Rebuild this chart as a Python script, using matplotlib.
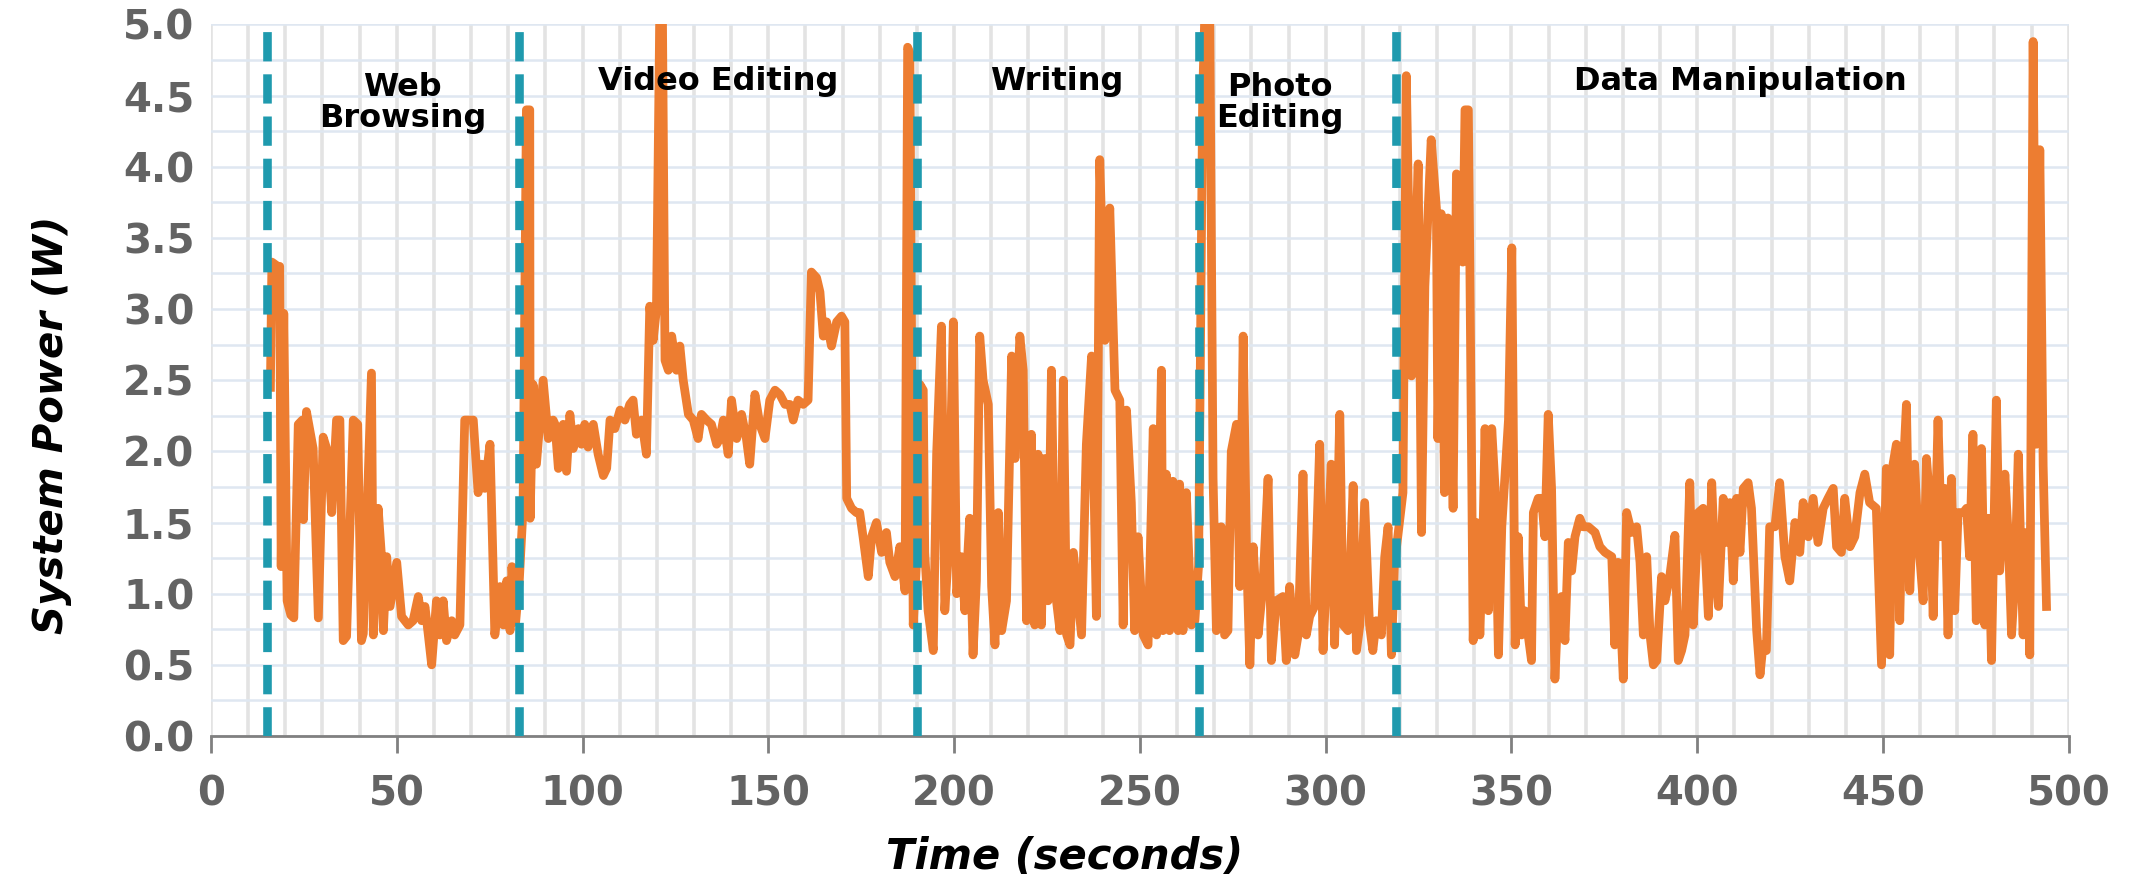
import numpy as np
import matplotlib
matplotlib.use("Agg")
import matplotlib.pyplot as plt

# power trace, split by activity (seconds, watts)
web_t = [16.0, 16.4, 18.0, 18.5, 18.9, 19.6, 20.5, 21.5, 22.3, 23.0, 23.5, 24.6, 24.9, 25.7,
         27.5, 28.9, 30.2, 31.6, 32.5, 33.8, 34.7, 35.6, 36.5, 38.3, 39.5, 40.5, 41.0, 43.2,
         43.7, 45.0, 45.9, 46.4, 47.3, 48.2, 50.0, 51.3, 53.1, 54.4, 55.8, 56.7, 57.6, 58.5,
         59.4, 60.7, 61.6, 62.5, 63.4, 64.8, 65.6, 67.0, 68.3, 70.6, 71.9, 72.8, 73.7, 75.1,
         76.4, 77.8, 78.7, 79.6, 80.5, 81.0, 82.0]
web_p = [2.45, 3.33, 3.30, 3.30, 1.19, 2.97, 0.95, 0.85, 0.83, 1.60, 2.19, 2.22, 1.52, 2.28,
         2.02, 0.83, 2.10, 1.98, 1.57, 2.22, 2.22, 0.67, 0.70, 2.22, 2.19, 0.67, 0.72, 2.55,
         0.71, 1.60, 1.26, 0.74, 1.26, 0.91, 1.22, 0.84, 0.78, 0.81, 0.98, 0.81, 0.91, 0.71,
         0.50, 0.95, 0.71, 0.95, 0.67, 0.81, 0.71, 0.78, 2.22, 2.22, 1.71, 1.91, 1.74, 2.05,
         0.71, 1.05, 0.78, 1.09, 0.74, 1.19, 0.80]

video_t = [83.0, 84.0, 84.9, 85.8, 85.9, 86.7, 87.6, 89.4, 90.8, 92.1, 92.6, 93.5, 94.8, 95.7,
           96.6, 97.5, 98.9, 99.7, 100.6, 101.5, 102.9, 104.2, 105.6, 106.5, 107.4, 108.7,
           110.1, 111.4, 112.7, 113.6, 114.5, 115.9, 117.2, 118.1, 119.0, 119.9, 120.8, 121.5,
           122.2, 123.1, 124.0, 125.3, 126.2, 127.1, 128.5, 129.8, 131.1, 132.0, 133.4, 134.7,
           136.1, 137.0, 137.9, 139.2, 140.1, 141.5, 142.8, 144.1, 145.0, 146.4, 147.7, 149.1,
           150.4, 151.8, 153.1, 154.5, 155.8, 156.7, 158.0, 159.4, 160.7, 161.6, 163.0, 163.9,
           164.8, 165.7, 167.0, 168.4, 169.7, 170.6, 171.1, 172.4, 173.7, 174.6, 175.5, 176.9,
           177.8, 179.1, 180.5, 181.8, 182.7, 184.1, 185.4, 186.8, 187.5, 188.1, 189.0]
video_p = [1.10, 1.60, 4.40, 4.40, 1.53, 2.47, 1.91, 2.50, 2.09, 2.22, 2.19, 1.88, 2.19, 1.86,
           2.26, 2.02, 2.16, 2.05, 2.19, 2.03, 2.19, 1.98, 1.83, 1.88, 2.22, 2.16,
           2.29, 2.22, 2.33, 2.36, 2.12, 2.22, 1.98, 3.02, 2.78, 3.00, 5.10, 5.10,
           2.64, 2.57, 2.81, 2.57, 2.74, 2.50, 2.26, 2.22, 2.09, 2.26, 2.22, 2.19,
           2.05, 2.09, 2.22, 1.98, 2.36, 2.09, 2.26, 2.09, 1.91, 2.40, 2.19, 2.09,
           2.36, 2.43, 2.40, 2.33, 2.33, 2.22, 2.36, 2.33, 2.36, 3.26, 3.22, 3.12,
           2.81, 2.91, 2.74, 2.91, 2.95, 2.91, 1.67, 1.60, 1.57, 1.57, 1.40, 1.12,
           1.40, 1.50, 1.29, 1.43, 1.22, 1.12, 1.33, 1.02, 4.84, 4.80, 0.78]

writing_t = [189.9, 190.8, 191.7, 192.1, 193.0, 194.4, 195.3, 196.6, 197.5, 198.4, 199.8, 200.7,
             202.0, 202.9, 204.2, 205.1, 206.0, 206.9, 207.8, 209.2, 210.1, 211.0, 211.9, 212.8,
             214.1, 215.5, 216.4, 217.7, 218.6, 219.5, 220.8, 221.7, 222.6, 223.5, 224.4, 225.3,
             226.2, 227.1, 228.5, 229.4, 230.3, 231.2, 232.1, 233.0, 234.3, 235.6, 237.0, 238.3,
             239.2, 240.6, 241.9, 243.3, 244.6, 245.5, 246.4, 247.7, 248.6, 249.5, 250.9, 252.2,
             253.6, 254.5, 255.8, 256.2, 257.1, 258.0, 258.9, 260.3, 260.7, 261.6, 262.5, 263.9,
             264.8, 265.8]
writing_p = [1.22, 2.47, 2.43, 1.29, 0.88, 0.60, 1.98, 2.88, 0.88, 1.26, 2.91, 1.00,
             1.26, 0.88, 1.53, 0.57, 1.09, 2.81, 2.50, 2.33, 1.05, 0.64, 1.57, 0.74,
             0.95, 2.67, 1.95, 2.81, 2.57, 0.81, 2.12, 0.78, 1.98, 0.78, 1.95, 0.95,
             2.57, 1.05, 0.74, 2.50, 0.71, 0.64, 1.29, 1.05, 0.71, 2.05, 2.67, 0.84,
             4.05, 2.78, 3.71, 2.43, 2.36, 0.78, 2.29, 1.64, 0.74, 1.40, 0.71, 0.64,
             2.16, 0.71, 2.57, 0.74, 1.84, 0.74, 1.79, 0.74, 1.77, 0.74, 1.71, 0.78,
             0.81, 1.20]

photo_t = [266.9, 267.5, 268.8, 269.7, 270.6, 271.9, 272.8, 273.7, 274.6, 276.0, 276.9, 277.8,
           278.7, 279.6, 280.5, 281.8, 283.1, 284.5, 285.4, 286.7, 288.5, 289.4, 290.3, 291.7,
           292.6, 293.9, 294.8, 295.7, 297.0, 298.4, 299.3, 300.2, 301.5, 302.4, 303.8, 304.7,
           306.0, 307.4, 308.3, 309.2, 310.5, 311.8, 312.7, 313.6, 315.0, 315.9, 316.8, 317.7,
           318.5]
photo_p = [4.50, 5.10, 5.10, 1.81, 0.74, 1.47, 0.71, 0.74, 2.00, 2.19, 1.05, 2.81,
           1.29, 0.50, 1.33, 0.71, 1.05, 1.81, 0.53, 0.95, 0.98, 0.53, 1.05, 0.57,
           0.71, 1.84, 0.71, 0.84, 0.91, 2.05, 0.60, 1.12, 1.91, 0.64, 2.26, 0.78,
           0.74, 1.76, 0.60, 0.78, 1.64, 0.78, 0.60, 0.81, 0.71, 1.26, 1.47, 0.57,
           1.20]

data_t = [320.8, 321.7, 323.1, 324.9, 325.8, 326.7, 328.4, 329.8, 330.2, 331.1, 332.0, 332.9,
          334.3, 335.2, 336.1, 336.9, 337.5, 338.4, 338.8, 339.7, 340.6, 341.5, 342.4, 342.9,
          343.8, 344.7, 345.6, 346.5, 347.4, 349.2, 350.1, 351.0, 351.8, 352.7, 353.6, 354.5,
          355.4, 355.9, 357.2, 358.1, 359.0, 359.9, 360.8, 361.7, 362.6, 363.5, 364.4, 365.3,
          366.2, 367.1, 368.4, 369.3, 370.7, 372.5, 373.8, 375.2, 377.0, 377.8, 378.7, 380.1,
          381.0, 382.3, 383.7, 384.6, 385.5, 386.4, 387.3, 388.2, 389.1, 390.4, 391.3, 392.6,
          394.0, 394.9, 395.8, 396.7, 398.0, 398.9, 400.3, 401.6, 403.0, 403.9, 404.8, 405.7,
          407.0, 407.9, 408.8, 409.7, 410.6, 411.5, 412.4, 413.7, 414.6, 416.0, 416.9, 417.7,
          418.6, 419.5, 420.9, 422.2, 423.6, 424.9, 426.3, 427.6, 428.5, 429.9, 431.2, 432.5,
          433.9, 435.2, 436.6, 437.5, 438.8, 439.7, 441.1, 442.4, 443.8, 445.1, 446.4, 448.2,
          449.6, 450.9, 451.8, 452.7, 453.6, 454.5, 455.4, 456.3, 457.2, 458.5, 459.4, 460.8,
          461.7, 462.6, 463.5, 464.8, 465.7, 466.6, 467.5, 468.4, 469.3, 470.2, 471.6, 472.5,
          473.3, 474.2, 475.1, 476.5, 477.4, 478.3, 479.2, 480.5, 481.4, 482.8, 483.7, 484.6,
          485.5, 486.4, 487.7, 488.6, 489.5, 490.4, 491.3, 492.2, 493.1, 494.0]
data_p = [1.71, 4.64, 2.53, 4.02, 1.43, 3.16, 4.19, 3.71, 2.09, 3.67, 1.71, 3.64,
          1.60, 3.95, 3.93, 3.33, 4.40, 4.40, 3.33, 0.67, 1.50, 0.71, 1.50, 2.16,
          0.88, 2.16, 1.74, 0.57, 1.47, 2.22, 3.43, 0.64, 1.40, 0.71, 0.88, 0.71,
          0.53, 1.57, 1.67, 1.67, 1.40, 2.26, 1.74, 0.40, 0.95, 0.98, 0.67, 1.36,
          1.16, 1.40, 1.53, 1.47, 1.47, 1.43, 1.33, 1.29, 1.26, 0.64, 1.22, 0.40,
          1.57, 1.43, 1.47, 1.22, 0.71, 1.26, 0.71, 0.50, 0.53, 1.12, 0.95, 1.12,
          1.41, 0.53, 0.60, 0.71, 1.78, 0.78, 1.57, 1.60, 0.84, 1.78, 1.19, 0.91,
          1.67, 1.36, 1.64, 1.09, 1.67, 1.29, 1.74, 1.78, 1.60, 0.74, 0.43, 0.64,
          0.60, 1.47, 1.47, 1.78, 1.26, 1.09, 1.50, 1.29, 1.64, 1.40, 1.67, 1.36,
          1.60, 1.67, 1.74, 1.33, 1.29, 1.67, 1.33, 1.40, 1.71, 1.84, 1.64, 1.60,
          0.50, 1.88, 0.57, 1.91, 2.05, 0.81, 1.84, 2.33, 1.02, 1.91, 1.43, 0.95,
          1.95, 1.64, 0.84, 2.22, 1.40, 1.74, 0.71, 1.81, 0.88, 1.57, 1.57, 1.60,
          1.26, 2.12, 0.81, 2.02, 0.78, 1.53, 0.53, 2.36, 1.16, 1.84, 1.40, 0.71,
          1.12, 1.98, 0.71, 1.43, 0.57, 4.88, 2.05, 4.12, 1.90, 0.91]

boundaries = [15, 83, 190, 266, 319]
activities = ["Web\nBrowsing", "Video Editing", "Writing", "Photo\nEditing", "Data Manipulation"]
label_pos = [(51.6, 4.45), (136.5, 4.60), (227.6, 4.60), (287.7, 4.45), (411.5, 4.60)]

t = np.concatenate([web_t, video_t, writing_t, photo_t, data_t])
p = np.concatenate([web_p, video_p, writing_p, photo_p, data_p])

fig = plt.figure(figsize=(21.33, 8.83), dpi=100)
ax = fig.add_axes([0.0989, 0.1665, 0.871, 0.8058])

ax.plot(t, p, color="#ED7D31", lw=6.3, solid_joinstyle="round", zorder=3)
for b in boundaries:
    ax.axvline(b, color="#1F9AAE", lw=6.2, dashes=(3.4, 1.5), zorder=4)

for (x, y), name in zip(label_pos, activities):
    ax.text(x, y, name, ha="center", va="center", fontsize=23, fontweight="bold",
            linespacing=1.0, zorder=5)

ax.set_xlim(0, 500)
ax.set_ylim(0, 5)
ax.set_xticks(range(0, 501, 50))
ax.set_xticks(range(0, 501, 10), minor=True)
ax.set_yticks(np.arange(0, 5.01, 0.5))
ax.set_yticks(np.arange(0, 5.01, 0.25), minor=True)
ax.set_yticklabels([f"{v:.1f}" for v in np.arange(0, 5.01, 0.5)])
ax.grid(axis="x", which="both", color="#e3e3e3", lw=2.6, zorder=0)
ax.grid(axis="y", which="both", color="#dfe7f1", lw=1.8, zorder=0)
ax.set_axisbelow(True)

for s in ["top", "right", "left"]:
    ax.spines[s].set_visible(False)
ax.spines["bottom"].set_color("#808080")
ax.spines["bottom"].set_linewidth(2)

ax.tick_params(axis="x", which="major", length=12, width=2, color="#808080", pad=16)
ax.tick_params(axis="x", which="minor", length=0)
ax.tick_params(axis="y", which="both", length=0, pad=12)
for lab in ax.get_xticklabels() + ax.get_yticklabels():
    lab.set_fontsize(29)
    lab.set_fontweight("bold")
    lab.set_color("#636363")

ax.set_xlabel("Time (seconds)", fontsize=30, fontweight="bold", fontstyle="italic", va="center")
ax.xaxis.set_label_coords(0.4596, -0.170)
ax.set_ylabel("System Power (W)", fontsize=29, fontweight="bold", fontstyle="italic", va="center")
ax.yaxis.set_label_coords(-0.0856, 0.437)

fig.savefig("out.png", dpi=100)
